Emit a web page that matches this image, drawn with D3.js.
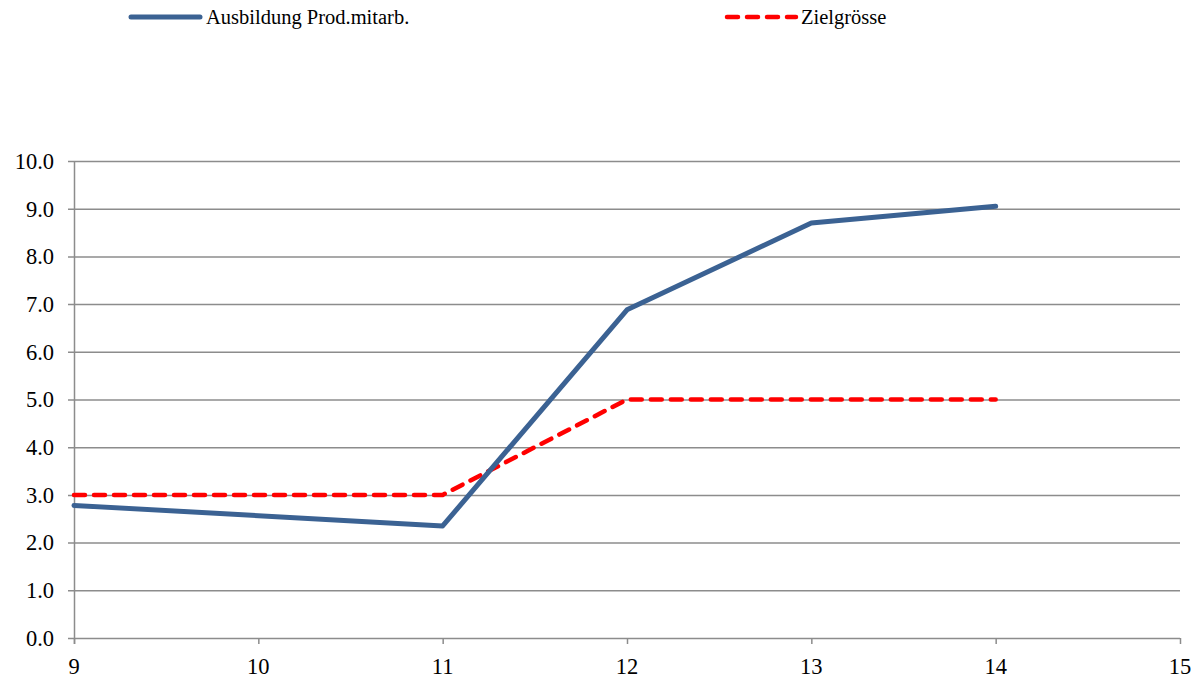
<!DOCTYPE html>
<html>
<head>
<meta charset="utf-8">
<script src="https://cdn.jsdelivr.net/npm/d3@7"></script>
<style>
  body { margin: 0; background: #fff; }
  text { font-family: "Liberation Serif", "Times New Roman", serif; fill: #000; }
</style>
</head>
<body>
<div id="chart"></div>
<script>
// data
var years = [9, 11, 12, 13, 14];
var ausbildung = [2.78, 2.35, 6.88, 8.70, 9.05];
var zielgroesse = [3, 3, 5, 5, 5];
var xTicks = [9, 10, 11, 12, 13, 14, 15];
var yTicks = [0, 1, 2, 3, 4, 5, 6, 7, 8, 9, 10];
var seriesNames = ["Ausbildung Prod.mitarb.", "Zielgrösse"];

var width = 1200, height = 680;
var plotLeft = 74, plotRight = 1180, plotTop = 161, plotBottom = 638;

var svg = d3.select("#chart").append("svg")
    .attr("width", width)
    .attr("height", height);

var x = d3.scaleLinear().domain([9, 15]).range([plotLeft, plotRight]);
var y = d3.scaleLinear().domain([0, 10]).range([plotBottom, plotTop]);

// horizontal gridlines
svg.append("g").selectAll("line").data(yTicks).enter().append("line")
    .attr("x1", plotLeft - 6)
    .attr("x2", plotRight)
    .attr("y1", function (d) { return y(d) + 0.5; })
    .attr("y2", function (d) { return y(d) + 0.5; })
    .style("stroke", "#8c8c8c")
    .style("stroke-width", 1.5);

// y labels
svg.append("g").selectAll("text").data(yTicks).enter().append("text")
    .attr("x", 54)
    .attr("y", function (d) { return y(d); })
    .attr("dy", ".35em")
    .attr("text-anchor", "end")
    .style("font-size", "22.5px")
    .text(function (d) { return d.toFixed(1); });

// y axis line
svg.append("line")
    .attr("x1", plotLeft + 0.5).attr("x2", plotLeft + 0.5)
    .attr("y1", plotTop).attr("y2", plotBottom + 6)
    .style("stroke", "#8c8c8c")
    .style("stroke-width", 1.5);

// x ticks
svg.append("g").selectAll("line").data(xTicks).enter().append("line")
    .attr("x1", function (d) { return x(d) + 0.5; })
    .attr("x2", function (d) { return x(d) + 0.5; })
    .attr("y1", plotBottom)
    .attr("y2", plotBottom + 6)
    .style("stroke", "#8c8c8c")
    .style("stroke-width", 1.5);

svg.append("g").selectAll("text").data(xTicks).enter().append("text")
    .attr("x", function (d) { return x(d); })
    .attr("y", 674)
    .attr("text-anchor", "middle")
    .style("font-size", "22.5px")
    .text(String);

var line = d3.line()
    .x(function (d, i) { return x(years[i]); })
    .y(function (d) { return y(d); });

svg.append("path")
    .datum(zielgroesse)
    .attr("d", line)
    .attr("fill", "none")
    .attr("stroke", "#ff0000")
    .attr("stroke-width", 4.5)
    .attr("stroke-dasharray", "11,9")
    .attr("stroke-linecap", "round")
    .attr("stroke-linejoin", "round");

svg.append("path")
    .datum(ausbildung)
    .attr("d", line)
    .attr("fill", "none")
    .attr("stroke", "#3b6293")
    .attr("stroke-width", 5)
    .attr("stroke-linecap", "round")
    .attr("stroke-linejoin", "round");

// legend
var legend = svg.append("g");
legend.append("line")
    .attr("x1", 131).attr("x2", 200)
    .attr("y1", 17).attr("y2", 17)
    .attr("stroke", "#3b6293")
    .attr("stroke-width", 5)
    .attr("stroke-linecap", "round");
legend.append("text")
    .attr("x", 206).attr("y", 17)
    .attr("dy", ".35em")
    .style("font-size", "20.5px")
    .text(seriesNames[0]);

legend.append("line")
    .attr("x1", 727).attr("x2", 796)
    .attr("y1", 17).attr("y2", 17)
    .attr("stroke", "#ff0000")
    .attr("stroke-width", 4.5)
    .attr("stroke-dasharray", "11,9")
    .attr("stroke-linecap", "round");
legend.append("text")
    .attr("x", 801).attr("y", 17)
    .attr("dy", ".35em")
    .style("font-size", "20.5px")
    .text(seriesNames[1]);
</script>
</body>
</html>
